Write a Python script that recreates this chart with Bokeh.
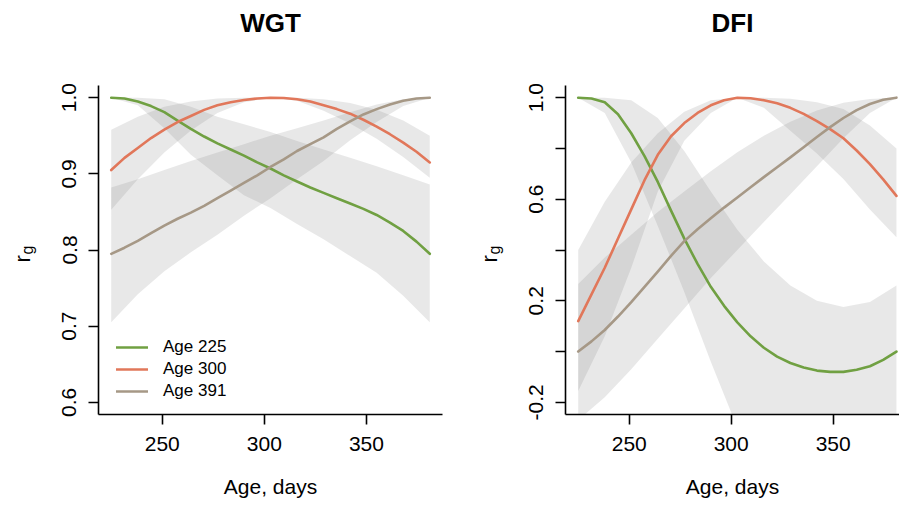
import math
from bokeh.plotting import figure
from bokeh.models import (FixedTicker, PrintfTickFormatter, Range1d, Legend,
                          LegendItem, Label, Title)
from bokeh.layouts import row
from bokeh.embed import file_html
from bokeh.resources import INLINE

# ---------------- data ----------------
# days at which the lines were read
line_days = [225, 231.5, 238, 244.5, 251, 257.5, 264, 270.5, 277, 283.5, 290, 296.5,
             303, 309.5, 316, 322.5, 329, 335.5, 342, 348.5, 355, 361.5, 368, 374.5, 381]
# days at which the confidence bands were read
band_days = [225, 238, 251, 264, 277, 290, 303, 316, 329, 342, 355, 368, 381]

# WGT panel
wgt_225 = [1.000, 0.999, 0.995, 0.989, 0.981, 0.970, 0.959, 0.949, 0.940, 0.932, 0.924, 0.915,
           0.907, 0.898, 0.890, 0.882, 0.875, 0.868, 0.861, 0.854, 0.846, 0.836, 0.825, 0.811, 0.795]
wgt_300 = [0.905, 0.921, 0.934, 0.947, 0.958, 0.968, 0.976, 0.984, 0.990, 0.994, 0.997, 0.999,
           1.000, 0.9995, 0.998, 0.995, 0.990, 0.985, 0.979, 0.971, 0.962, 0.952, 0.941, 0.929, 0.915]
wgt_391 = [0.795, 0.803, 0.812, 0.822, 0.832, 0.841, 0.849, 0.858, 0.868, 0.878, 0.888, 0.898,
           0.909, 0.919, 0.930, 0.939, 0.948, 0.959, 0.969, 0.978, 0.985, 0.991, 0.996, 0.999, 1.000]

wgt_225_hi = [1.000, 1.000, 0.998, 0.988, 0.975, 0.965, 0.955, 0.943, 0.932, 0.921, 0.910, 0.898, 0.886]
wgt_225_lo = [1.000, 0.990, 0.960, 0.925, 0.898, 0.872, 0.855, 0.834, 0.814, 0.792, 0.770, 0.740, 0.705]
wgt_300_hi = [0.958, 0.975, 0.988, 0.995, 0.999, 1.000, 1.000, 1.000, 0.998, 0.993, 0.984, 0.970, 0.950]
wgt_300_lo = [0.853, 0.893, 0.928, 0.957, 0.980, 0.994, 1.000, 0.996, 0.983, 0.966, 0.946, 0.922, 0.895]
wgt_391_hi = [0.882, 0.893, 0.905, 0.917, 0.928, 0.939, 0.950, 0.960, 0.970, 0.981, 0.991, 0.998, 1.000]
wgt_391_lo = [0.705, 0.742, 0.772, 0.797, 0.820, 0.845, 0.868, 0.893, 0.917, 0.944, 0.968, 0.989, 1.000]

# DFI panel
dfi_225 = [1.000, 0.997, 0.982, 0.935, 0.860, 0.770, 0.668, 0.555, 0.445, 0.345, 0.255, 0.180,
           0.115, 0.060, 0.015, -0.020, -0.045, -0.063, -0.075, -0.080, -0.080, -0.072, -0.058, -0.033, 0.000]
dfi_300 = [0.120, 0.225, 0.330, 0.445, 0.560, 0.675, 0.775, 0.848, 0.900, 0.940, 0.970, 0.990,
           1.000, 0.998, 0.990, 0.978, 0.960, 0.936, 0.908, 0.876, 0.840, 0.792, 0.738, 0.678, 0.613]
dfi_391 = [0.000, 0.040, 0.085, 0.138, 0.195, 0.255, 0.315, 0.377, 0.435, 0.482, 0.525, 0.567,
           0.607, 0.647, 0.687, 0.726, 0.765, 0.805, 0.845, 0.884, 0.920, 0.951, 0.975, 0.992, 1.000]

dfi_225_hi = [1.000, 1.000, 0.990, 0.920, 0.790, 0.630, 0.480, 0.355, 0.260, 0.200, 0.175, 0.195, 0.260]
dfi_225_lo = [1.000, 0.940, 0.745, 0.495, 0.235, -0.040, -0.300, -0.500, -0.600, -0.650, -0.660, -0.640, -0.550]
dfi_300_hi = [0.400, 0.590, 0.745, 0.860, 0.945, 0.990, 1.000, 1.000, 0.996, 0.982, 0.955, 0.890, 0.800]
dfi_300_lo = [-0.155, 0.060, 0.330, 0.630, 0.830, 0.940, 1.000, 0.960, 0.870, 0.780, 0.680, 0.560, 0.450]
dfi_391_hi = [0.266, 0.370, 0.460, 0.550, 0.630, 0.710, 0.785, 0.850, 0.905, 0.950, 0.980, 0.995, 1.000]
dfi_391_lo = [-0.270, -0.180, -0.070, 0.050, 0.170, 0.290, 0.400, 0.510, 0.620, 0.730, 0.840, 0.940, 1.000]

series_labels = ["Age 225", "Age 300", "Age 391"]
x_ticks = [250, 300, 350]
wgt_y_ticks = [0.6, 0.7, 0.8, 0.9, 1.0]
dfi_y_ticks = [-0.2, 0.0, 0.2, 0.4, 0.6, 0.8, 1.0]
dfi_hidden_ticks = [0.0, 0.4, 0.8]

# ---------------- styling ----------------
FONT = "Liberation Sans"
COLORS = ["#70a042", "#e1775a", "#a69886"]
BAND = "#808080"
BAND_ALPHA = 0.18
FRAME_BOTTOM = 414  # canvas y of the plot frames' bottom edge


def ylabel_fig(width, x_r):
    """Narrow strip holding the rotated y-axis title r_g."""
    f = figure(width=width, height=505, x_range=Range1d(0, width), y_range=Range1d(0, 505),
               min_border=0, toolbar_location=None, output_backend="svg",
               x_axis_type=None, y_axis_type=None)
    f.outline_line_color = None
    f.add_layout(Label(x=x_r, y=FRAME_BOTTOM - 262, x_units="screen", y_units="screen",
                       text="r", angle=math.pi / 2, text_font=FONT, text_font_size="22px",
                       text_align="left", text_baseline="alphabetic", text_color="black"))
    f.add_layout(Label(x=x_r + 5, y=FRAME_BOTTOM - 254, x_units="screen", y_units="screen",
                       text="g", angle=math.pi / 2, text_font=FONT, text_font_size="16px",
                       text_align="left", text_baseline="alphabetic", text_color="black"))
    return f


def make_panel(title, x_end, y_range, y_ticks, lines, bands, min_left, frame_w,
               min_right, legend=False, hidden=None):
    p = figure(frame_width=frame_w, frame_height=329,
               x_range=Range1d(218.76, x_end), y_range=Range1d(*y_range),
               min_border_left=min_left, min_border_right=min_right,
               min_border_top=85, min_border_bottom=91,
               toolbar_location=None, output_backend="svg", title=None)
    p.outline_line_color = None
    p.xgrid.visible = False
    p.ygrid.visible = False
    p.background_fill_color = "white"
    p.border_fill_color = "white"

    # spacer (closest to the frame) then the real title above it
    p.add_layout(Title(text=" ", text_font_size="41px", standoff=0), "above")
    p.add_layout(Title(text=title, align="center", text_font=FONT, text_font_size="26px",
                       text_font_style="bold", text_color="black", standoff=0), "above")

    for ax in (p.xaxis[0], p.yaxis[0]):
        ax.axis_line_width = 1.6
        ax.axis_line_color = "black"
        ax.major_tick_line_width = 1.6
        ax.major_tick_line_color = "black"
        ax.major_tick_out = 10
        ax.major_tick_in = 0
        ax.minor_tick_line_color = None
        ax.major_label_text_font = FONT
        ax.major_label_text_font_size = "21px"
        ax.major_label_text_color = "black"
        ax.axis_label_text_font = FONT
        ax.axis_label_text_font_size = "21px"
        ax.axis_label_text_font_style = "normal"
        ax.axis_label_text_color = "black"

    p.xaxis.ticker = FixedTicker(ticks=x_ticks)
    p.xaxis.formatter = PrintfTickFormatter(format="%d")
    p.xaxis.major_label_standoff = 12
    p.xaxis.axis_label = "Age, days"
    p.xaxis.axis_label_standoff = 21

    p.yaxis.ticker = FixedTicker(ticks=y_ticks)
    p.yaxis.formatter = PrintfTickFormatter(format="%.1f")
    p.yaxis.major_label_orientation = "vertical"
    p.yaxis.major_label_standoff = 12
    if hidden:
        p.yaxis.major_label_overrides = {t: "" for t in hidden}

    for (hi, lo) in bands:
        p.varea(x=band_days, y1=lo, y2=hi, fill_color=BAND, fill_alpha=BAND_ALPHA)
    renderers = []
    for mid, c in zip(lines, COLORS):
        r = p.line(line_days, mid, line_color=c, line_width=2.6, line_cap="round",
                   line_join="round")
        renderers.append(r)

    if legend:
        items = [LegendItem(label=lab, renderers=[r]) for lab, r in zip(series_labels, renderers)]
        lg = Legend(items=items, location=(18, 12))
        lg.label_text_font = FONT
        lg.label_text_font_size = "17px"
        lg.label_text_color = "black"
        lg.glyph_width = 32
        lg.glyph_height = 22
        lg.label_height = 22
        lg.label_standoff = 15
        lg.padding = 0
        lg.margin = 0
        lg.spacing = 0
        lg.border_line_color = None
        lg.background_fill_alpha = 0
        p.add_layout(lg)
    return p


lab1 = ylabel_fig(45, 22)
p1 = make_panel("WGT", 387.24, (0.584, 1.016), wgt_y_ticks,
                [wgt_225, wgt_300, wgt_391],
                [(wgt_225_hi, wgt_225_lo), (wgt_300_hi, wgt_300_lo), (wgt_391_hi, wgt_391_lo)],
                min_left=53, frame_w=344, min_right=8, legend=True)
lab2 = ylabel_fig(60, 39)
p2 = make_panel("DFI", 382.5, (-0.248, 1.048), dfi_y_ticks,
                [dfi_225, dfi_300, dfi_391],
                [(dfi_225_hi, dfi_225_lo), (dfi_300_hi, dfi_300_lo), (dfi_391_hi, dfi_391_lo)],
                min_left=55, frame_w=334, min_right=0, hidden=dfi_hidden_ticks)

layout = row(lab1, p1, lab2, p2)
open("out.html", "w").write(file_html(layout, INLINE))
